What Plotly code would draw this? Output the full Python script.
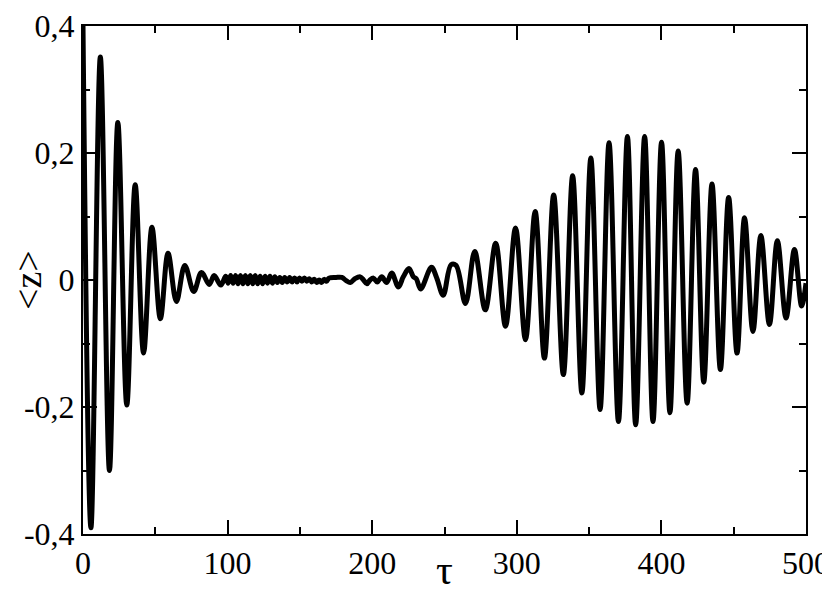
import plotly.graph_objects as go

# extrema / turning points of <z>(tau)
tau_decay = [0.0, 5.5, 12.0, 18.3, 24.1, 30.3, 36.1, 41.9, 47.7, 53.5, 58.8,
             64.6, 70.4, 76.6, 81.9, 87.3, 90.7, 95.3]
z_decay = [0.400, -0.390, 0.351, -0.300, 0.248, -0.197, 0.150, -0.115, 0.083,
           -0.061, 0.042, -0.034, 0.023, -0.018, 0.012, -0.007, 0.007, -0.008]

tau_collapse = [98.7, 100.4, 102.1, 103.8, 105.5, 107.2, 108.9, 110.6, 112.3,
                114.0, 115.7, 117.4, 119.1, 120.8, 122.5, 124.2, 125.9, 127.6,
                129.3, 131.0, 132.7, 134.4, 136.1, 137.8, 139.5, 141.2, 142.9,
                144.6, 146.3, 148.0, 149.7, 151.4, 153.1, 154.8, 156.5, 158.2,
                159.9, 161.6, 163.3, 165.0, 166.7, 168.4, 170.1, 175.0, 179.0,
                182.0, 184.8, 188.0, 191.7, 194.0, 196.3, 198.5, 200.9, 203.5,
                206.6, 210.0, 213.5, 218.1, 221.5, 225.4, 228.5, 230.5, 233.5,
                241.0, 244.5, 249.1, 254.5, 258.0]
z_collapse = [0.006, -0.005, 0.007, -0.005, 0.007, -0.006, 0.007, -0.006, 0.007,
              -0.006, 0.007, -0.006, 0.007, -0.006, 0.006, -0.006, 0.006, -0.005,
              0.006, -0.005, 0.005, -0.004, 0.004, -0.004, 0.004, -0.003, 0.004,
              -0.003, 0.003, -0.003, 0.003, -0.002, 0.003, -0.002, 0.002, -0.003,
              0.001, -0.004, 0.000, -0.004, 0.001, -0.002, 0.003, 0.004, 0.004,
              -0.001, -0.004, 0.002, 0.005, 0.000, -0.006, 0.000, 0.003, -0.003,
              0.005, -0.004, 0.011, -0.011, 0.005, 0.018, 0.005, 0.002, -0.014,
              0.020, 0.004, -0.024, 0.024, 0.023]

tau_revival = [264.5, 270.9, 278.2, 285.4, 292.2, 299.1, 306.0, 312.7, 319.1,
               325.5, 332.2, 338.6, 345.0, 351.2, 357.6, 363.8, 370.3, 376.5,
               382.2, 388.4, 394.2, 400.1, 405.9, 411.6, 417.8, 423.6, 429.3,
               435.0, 440.8, 446.5, 452.3, 457.5, 463.3, 468.8, 474.7, 480.2,
               486.2, 492.0, 497.0, 500.0]
z_revival = [-0.037, 0.045, -0.047, 0.058, -0.073, 0.082, -0.094, 0.108, -0.123,
             0.134, -0.149, 0.164, -0.178, 0.192, -0.204, 0.216, -0.223, 0.226,
             -0.228, 0.226, -0.223, 0.217, -0.209, 0.203, -0.194, 0.174, -0.161,
             0.151, -0.141, 0.130, -0.115, 0.098, -0.081, 0.070, -0.070, 0.062,
             -0.060, 0.048, -0.041, -0.005]

tau = tau_decay + tau_collapse + tau_revival
z = z_decay + z_collapse + z_revival

x_ticks = [0, 100, 200, 300, 400, 500]
y_ticks = [-0.4, -0.2, 0, 0.2, 0.4]
y_ticktext = ["-0,4", "-0,2", "0", "0,2", "0,4"]

FONT = "Liberation Serif"

fig = go.Figure(go.Scatter(
    x=tau, y=z, mode="lines",
    line=dict(color="black", width=5, shape="spline", smoothing=1.0),
    showlegend=False,
))

axis_common = dict(
    showgrid=False, zeroline=False, automargin=False,
    showline=True, linecolor="black", linewidth=2,
    mirror="allticks", ticks="inside", ticklen=14, tickwidth=1.5,
    tickcolor="black", ticklabeloverflow="allow",
    tickfont=dict(family=FONT, size=32, color="black"),
)

fig.update_xaxes(
    range=[0, 500], tickvals=x_ticks,
    minor=dict(ticks="inside", ticklen=7, tickwidth=1.5, tickcolor="black", dtick=50),
    **axis_common,
)
fig.update_yaxes(
    range=[-0.4, 0.4], tickvals=y_ticks, ticktext=y_ticktext,
    minor=dict(ticks="inside", ticklen=7, tickwidth=1.5, tickcolor="black", dtick=0.1),
    **axis_common,
)

# axis titles as annotations so they sit where the reference puts them
fig.add_annotation(
    text="τ", xref="paper", yref="paper", x=0.5, y=0,
    xanchor="center", yanchor="middle", yshift=-36, showarrow=False,
    font=dict(family=FONT, size=42, color="black"),
)
fig.add_annotation(
    text="&lt;z&gt;", xref="paper", yref="paper", x=0, y=0.5,
    xanchor="center", yanchor="middle", xshift=-55, textangle=-90,
    showarrow=False, font=dict(family=FONT, size=38, color="black"),
)

fig.update_layout(
    width=830, height=596,
    margin=dict(l=75, r=32, t=18, b=70),
    plot_bgcolor="white", paper_bgcolor="white",
)

fig.write_html("out.html")
